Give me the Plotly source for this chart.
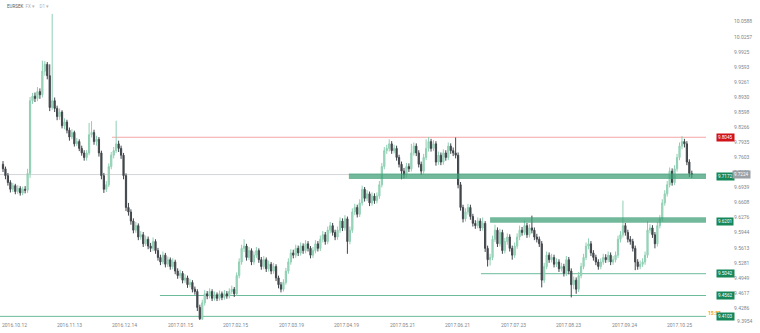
import plotly.graph_objects as go

# ---------------- data (EURSEK daily) ----------------
opens = [9.745,9.735,9.720,9.705,9.690,9.698,9.685,9.692,9.682,9.690,
9.688,9.725,9.885,9.895,9.890,9.905,9.898,9.950,9.965,9.940,
9.870,9.885,9.868,9.850,9.860,9.830,9.838,9.820,9.805,9.815,
9.790,9.795,9.780,9.770,9.760,9.770,9.810,9.815,9.795,9.800,
9.770,9.720,9.690,9.700,9.740,9.765,9.775,9.790,9.780,9.765,
9.720,9.650,9.640,9.620,9.600,9.610,9.585,9.590,9.570,9.580,
9.565,9.560,9.575,9.555,9.540,9.530,9.545,9.525,9.535,9.520,
9.530,9.510,9.500,9.505,9.490,9.495,9.480,9.485,9.470,9.465,
9.430,9.405,9.440,9.460,9.455,9.465,9.450,9.458,9.450,9.460,
9.452,9.460,9.455,9.465,9.470,9.460,9.500,9.530,9.560,9.565,
9.540,9.555,9.530,9.545,9.555,9.535,9.520,9.535,9.515,9.525,
9.510,9.520,9.495,9.480,9.470,9.485,9.510,9.530,9.550,9.545,
9.560,9.550,9.565,9.555,9.570,9.560,9.545,9.555,9.570,9.560,
9.580,9.590,9.575,9.600,9.610,9.595,9.585,9.600,9.620,9.605,
9.625,9.575,9.600,9.640,9.650,9.635,9.660,9.690,9.670,9.680,
9.660,9.675,9.665,9.675,9.700,9.740,9.775,9.780,9.790,9.775,
9.780,9.760,9.745,9.730,9.722,9.740,9.735,9.770,9.785,9.770,
9.745,9.730,9.760,9.780,9.795,9.780,9.790,9.750,9.765,9.750,
9.770,9.760,9.785,9.775,9.770,9.765,9.700,9.650,9.625,9.640,
9.650,9.630,9.615,9.610,9.620,9.605,9.615,9.560,9.535,9.540,
9.580,9.600,9.570,9.595,9.555,9.575,9.585,9.560,9.545,9.565,
9.585,9.600,9.595,9.610,9.590,9.605,9.600,9.585,9.580,9.570,
9.490,9.520,9.545,9.535,9.540,9.525,9.530,9.515,9.520,9.505,
9.535,9.510,9.480,9.490,9.470,9.500,9.520,9.540,9.565,9.570,
9.550,9.540,9.530,9.520,9.530,9.540,9.535,9.545,9.530,9.535,
9.545,9.580,9.590,9.610,9.595,9.580,9.575,9.560,9.530,9.520,
9.525,9.530,9.545,9.600,9.605,9.590,9.570,9.610,9.625,9.660,
9.680,9.700,9.730,9.705,9.735,9.760,9.785,9.795,9.790,9.750,
9.725]

highs = [9.752,9.740,9.726,9.710,9.704,9.702,9.699,9.697,9.696,9.697,
9.735,9.893,9.902,9.903,9.915,9.912,9.973,9.972,9.970,9.965,
10.076,9.892,9.874,9.868,9.864,9.846,9.843,9.826,9.822,9.819,
9.803,9.800,9.786,9.776,9.776,9.836,9.840,9.821,9.808,9.805,
9.775,9.726,9.708,9.747,9.772,9.783,9.841,9.797,9.786,9.770,
9.725,9.660,9.646,9.626,9.618,9.615,9.598,9.596,9.588,9.586,
9.572,9.584,9.580,9.561,9.546,9.553,9.550,9.542,9.540,9.538,
9.535,9.516,9.513,9.510,9.503,9.500,9.493,9.490,9.476,9.470,
9.436,9.447,9.468,9.466,9.472,9.470,9.465,9.463,9.467,9.465,
9.468,9.466,9.472,9.478,9.475,9.507,9.538,9.568,9.580,9.570,
9.563,9.560,9.553,9.563,9.560,9.541,9.543,9.540,9.533,9.530,
9.528,9.525,9.500,9.486,9.492,9.517,9.538,9.558,9.557,9.568,
9.566,9.573,9.571,9.578,9.576,9.565,9.563,9.578,9.576,9.588,
9.598,9.596,9.608,9.618,9.616,9.601,9.608,9.628,9.626,9.633,
9.630,9.608,9.648,9.658,9.656,9.668,9.698,9.695,9.688,9.685,
9.683,9.681,9.683,9.708,9.748,9.783,9.788,9.800,9.796,9.788,
9.786,9.766,9.751,9.737,9.748,9.747,9.790,9.793,9.791,9.776,
9.751,9.768,9.800,9.805,9.801,9.798,9.796,9.773,9.771,9.778,
9.776,9.793,9.791,9.782,9.804,9.771,9.706,9.656,9.648,9.658,
9.656,9.636,9.622,9.628,9.626,9.628,9.620,9.566,9.548,9.588,
9.612,9.606,9.603,9.601,9.583,9.593,9.591,9.566,9.573,9.593,
9.610,9.607,9.621,9.616,9.613,9.632,9.606,9.592,9.586,9.576,
9.528,9.553,9.551,9.548,9.546,9.538,9.536,9.528,9.526,9.543,
9.541,9.516,9.498,9.496,9.508,9.528,9.548,9.573,9.582,9.576,
9.556,9.546,9.536,9.538,9.548,9.547,9.553,9.551,9.543,9.553,
9.588,9.598,9.665,9.616,9.601,9.587,9.581,9.566,9.536,9.533,
9.538,9.553,9.620,9.613,9.611,9.596,9.618,9.633,9.668,9.688,
9.708,9.738,9.736,9.743,9.768,9.793,9.807,9.801,9.796,9.756,
9.731]

lows = [9.728,9.712,9.698,9.683,9.684,9.679,9.680,9.676,9.677,9.681,
9.682,9.715,9.878,9.882,9.884,9.889,9.892,9.940,9.932,9.862,
9.865,9.860,9.842,9.843,9.824,9.822,9.813,9.797,9.800,9.784,
9.785,9.774,9.764,9.753,9.753,9.765,9.804,9.788,9.786,9.762,
9.712,9.682,9.684,9.695,9.734,9.758,9.770,9.772,9.757,9.712,
9.642,9.632,9.612,9.593,9.594,9.578,9.579,9.563,9.565,9.558,
9.552,9.554,9.548,9.533,9.523,9.525,9.518,9.519,9.513,9.514,
9.503,9.493,9.494,9.483,9.484,9.473,9.474,9.463,9.458,9.422,
9.400,9.400,9.434,9.448,9.450,9.444,9.445,9.444,9.445,9.446,
9.447,9.449,9.450,9.459,9.453,9.455,9.494,9.524,9.552,9.533,
9.534,9.523,9.524,9.539,9.528,9.513,9.514,9.508,9.509,9.503,
9.504,9.488,9.472,9.463,9.465,9.480,9.504,9.524,9.538,9.539,
9.543,9.544,9.548,9.549,9.553,9.538,9.539,9.549,9.553,9.554,
9.573,9.568,9.569,9.593,9.588,9.578,9.579,9.594,9.598,9.599,
9.548,9.569,9.594,9.633,9.628,9.629,9.654,9.663,9.664,9.653,
9.654,9.658,9.659,9.669,9.694,9.734,9.768,9.773,9.768,9.769,
9.753,9.738,9.712,9.714,9.716,9.728,9.729,9.764,9.763,9.738,
9.722,9.724,9.754,9.773,9.773,9.774,9.742,9.744,9.743,9.744,
9.753,9.754,9.768,9.763,9.758,9.692,9.643,9.617,9.619,9.634,
9.623,9.608,9.603,9.604,9.598,9.599,9.552,9.520,9.522,9.534,
9.574,9.563,9.564,9.548,9.549,9.568,9.553,9.535,9.539,9.559,
9.578,9.588,9.589,9.583,9.584,9.593,9.578,9.573,9.563,9.474,
9.484,9.514,9.528,9.529,9.518,9.519,9.508,9.509,9.498,9.499,
9.503,9.452,9.470,9.460,9.464,9.494,9.514,9.534,9.558,9.543,
9.533,9.523,9.513,9.514,9.524,9.528,9.529,9.523,9.524,9.529,
9.539,9.573,9.584,9.588,9.573,9.568,9.553,9.512,9.513,9.514,
9.519,9.524,9.539,9.593,9.583,9.560,9.564,9.604,9.619,9.654,
9.674,9.694,9.698,9.699,9.729,9.754,9.778,9.782,9.743,9.717,
9.715]

closes = [9.735,9.720,9.705,9.690,9.698,9.685,9.692,9.682,9.690,9.688,
9.725,9.885,9.895,9.890,9.905,9.898,9.950,9.965,9.940,9.870,
9.885,9.868,9.850,9.860,9.830,9.838,9.820,9.805,9.815,9.790,
9.795,9.780,9.770,9.760,9.770,9.810,9.815,9.795,9.800,9.770,
9.720,9.690,9.700,9.740,9.765,9.775,9.790,9.780,9.765,9.720,
9.650,9.640,9.620,9.600,9.610,9.585,9.590,9.570,9.580,9.565,
9.560,9.575,9.555,9.540,9.530,9.545,9.525,9.535,9.520,9.530,
9.510,9.500,9.505,9.490,9.495,9.480,9.485,9.470,9.465,9.430,
9.405,9.440,9.460,9.455,9.465,9.450,9.458,9.450,9.460,9.452,
9.460,9.455,9.465,9.470,9.460,9.500,9.530,9.560,9.565,9.540,
9.555,9.530,9.545,9.555,9.535,9.520,9.535,9.515,9.525,9.510,
9.520,9.495,9.480,9.470,9.485,9.510,9.530,9.550,9.545,9.560,
9.550,9.565,9.555,9.570,9.560,9.545,9.555,9.570,9.560,9.580,
9.590,9.575,9.600,9.610,9.595,9.585,9.600,9.620,9.605,9.625,
9.575,9.600,9.640,9.650,9.635,9.660,9.690,9.670,9.680,9.660,
9.675,9.665,9.675,9.700,9.740,9.775,9.780,9.790,9.775,9.780,
9.760,9.745,9.730,9.722,9.740,9.735,9.770,9.785,9.770,9.745,
9.730,9.760,9.780,9.795,9.780,9.790,9.750,9.765,9.750,9.770,
9.760,9.785,9.775,9.770,9.765,9.700,9.650,9.625,9.640,9.650,
9.630,9.615,9.610,9.620,9.605,9.615,9.560,9.535,9.540,9.580,
9.600,9.570,9.595,9.555,9.575,9.585,9.560,9.545,9.565,9.585,
9.600,9.595,9.610,9.590,9.605,9.600,9.585,9.580,9.570,9.490,
9.520,9.545,9.535,9.540,9.525,9.530,9.515,9.520,9.505,9.535,
9.510,9.480,9.490,9.470,9.500,9.520,9.540,9.565,9.570,9.550,
9.540,9.530,9.520,9.530,9.540,9.535,9.545,9.530,9.535,9.545,
9.580,9.590,9.610,9.595,9.580,9.575,9.560,9.530,9.520,9.525,
9.530,9.545,9.600,9.605,9.590,9.570,9.610,9.625,9.660,9.680,
9.700,9.730,9.705,9.735,9.760,9.785,9.795,9.790,9.750,9.725,
9.7224]

price_ticks = [10.0588, 10.0257, 9.9925, 9.9593, 9.9261, 9.8930, 9.8598, 9.8266,
               9.7935, 9.7603, 9.7272, 9.6939, 9.6608, 9.6276, 9.5944, 9.5613,
               9.5281, 9.4949, 9.4617, 9.4286]
price_tick_text = ["10.0588", "10.0257", "9.9925", "9.9593", "9.9261", "9.8930", "9.8598", "9.8266",
                   "9.7935", "9.7603", "9.7272", "9.6939", "9.6608", "9.6276", "9.5944", "9.5613",
                   "9.5281", "9.4949", "9.4617", "9.4286"]
bottom_price_label = "9.3954"

date_labels = ["2016.10.12", "2016.11.13", "2016.12.14", "2017.01.15", "2017.02.15",
               "2017.03.19", "2017.04.19", "2017.05.21", "2017.06.21", "2017.07.23",
               "2017.08.23", "2017.09.24", "2017.10.25", "2017.11.23"]

# horizontal levels: (price, start bar)
resistance_level = 9.8045
resistance_start = 44.3
last_price = 9.7224
zone_upper = (9.7128, 9.7250)
zone_upper_label = 9.7172
zone_upper_start = 140.6
zone_lower = (9.6163, 9.6282)
zone_lower_label = 9.6201
zone_lower_start = 198.0
support_levels = [9.5042, 9.4562, 9.4103]
support_starts = [194.3, 63.8, -2.0]

# ---------------- figure ----------------
bars = list(range(len(closes)))
X0, X1 = -1.22, 285.77
Y0, Y1 = 9.4023, 10.1066

fig = go.Figure()
fig.add_trace(go.Candlestick(
    x=bars, open=opens, high=highs, low=lows, close=closes,
    increasing=dict(line=dict(color="#8fcfb3", width=1), fillcolor="#a6dbc4"),
    decreasing=dict(line=dict(color="#41464b", width=1), fillcolor="#41464b"),
    whiskerwidth=0, hoverinfo="skip", showlegend=False,
))

shapes = []
GREEN = "#6cbb9a"
# thin support lines
for lv, st in zip(support_levels, support_starts):
    shapes.append(dict(type="line", xref="x", yref="y", x0=st, x1=X1 + 20, y0=lv, y1=lv,
                       line=dict(color=GREEN, width=1), layer="below"))
# last price line
shapes.append(dict(type="line", xref="x", yref="y", x0=X0 - 5, x1=X1 + 20, y0=last_price, y1=last_price,
                   line=dict(color="#d3d6d9", width=1), layer="below"))
# resistance
shapes.append(dict(type="line", xref="x", yref="y", x0=resistance_start, x1=X1 + 20,
                   y0=resistance_level, y1=resistance_level,
                   line=dict(color="#f4a6a6", width=1), layer="below"))
# zones
for (a, b), st in [(zone_upper, zone_upper_start), (zone_lower, zone_lower_start)]:
    shapes.append(dict(type="rect", xref="x", yref="y", x0=st, x1=X1 + 20, y0=a, y1=b,
                       fillcolor="rgba(60,158,118,0.72)", line=dict(width=0), layer="above"))

annotations = []
# date labels
first_tick, tick_step = 4.47, 22.545
for k, lab in enumerate(date_labels):
    annotations.append(dict(x=first_tick + tick_step * k, xref="x", y=-0.016, yref="paper",
                            text=lab, showarrow=False, xanchor="center", yanchor="middle",
                            font=dict(size=5, color="#80868b")))
# bottom price label (clipped axis end)
annotations.append(dict(x=1.041, xref="paper", y=-0.004, yref="paper", text=bottom_price_label,
                        showarrow=False, xanchor="left", yanchor="middle",
                        font=dict(size=5, color="#80868b")))
# countdown
annotations.append(dict(x=1.0, xref="paper", y=support_levels[2] + 0.008, yref="y", text="<b>15:53</b>",
                        showarrow=False, xanchor="left", yanchor="middle",
                        font=dict(size=5, color="#f5a623")))


def tag(price, text, bg, xpaper):
    annotations.append(dict(x=xpaper, xref="paper", y=price, yref="y", text=text, showarrow=False,
                            xanchor="left", yanchor="middle", bgcolor=bg, borderpad=1,
                            font=dict(size=4.6, color="white")))


tag(resistance_level, f"{resistance_level:.4f}", "#d0121b", 1.0135)
tag(zone_upper_label, f"{zone_upper_label:.4f}", "#17875a", 1.0135)
tag(last_price, f"{last_price:.4f}", "#9aa0a5", 1.037)
tag(zone_lower_label, f"{zone_lower_label:.4f}", "#17875a", 1.0135)
for lv in support_levels:
    tag(lv, f"{lv:.4f}", "#17875a", 1.0135)

# header
annotations.append(dict(x=0.007, xref="paper", y=0.979, yref="paper",
                        text="EURSEK  <span style='color:#b0b4b8'>FX ▾    D1 ▾</span>",
                        showarrow=False, xanchor="left", yanchor="middle",
                        font=dict(size=4.5, color="#555b60")))

fig.update_layout(
    width=760, height=333,
    margin=dict(l=0, r=54, t=0, b=13),
    paper_bgcolor="white", plot_bgcolor="white",
    font=dict(family="Roboto, Arial, sans-serif"),
    shapes=shapes, annotations=annotations,
    xaxis=dict(range=[X0, X1], showgrid=False, zeroline=False, showline=False,
               showticklabels=False, ticks="", rangeslider=dict(visible=False),
               fixedrange=True),
    yaxis=dict(range=[Y0, Y1], side="right", showgrid=False, zeroline=False, showline=False,
               tickmode="array", tickvals=price_ticks, ticktext=price_tick_text,
               ticks="", ticklabelstandoff=27,
               tickfont=dict(size=5, color="#80868b"), fixedrange=True),
)

fig.write_html("out.html")
